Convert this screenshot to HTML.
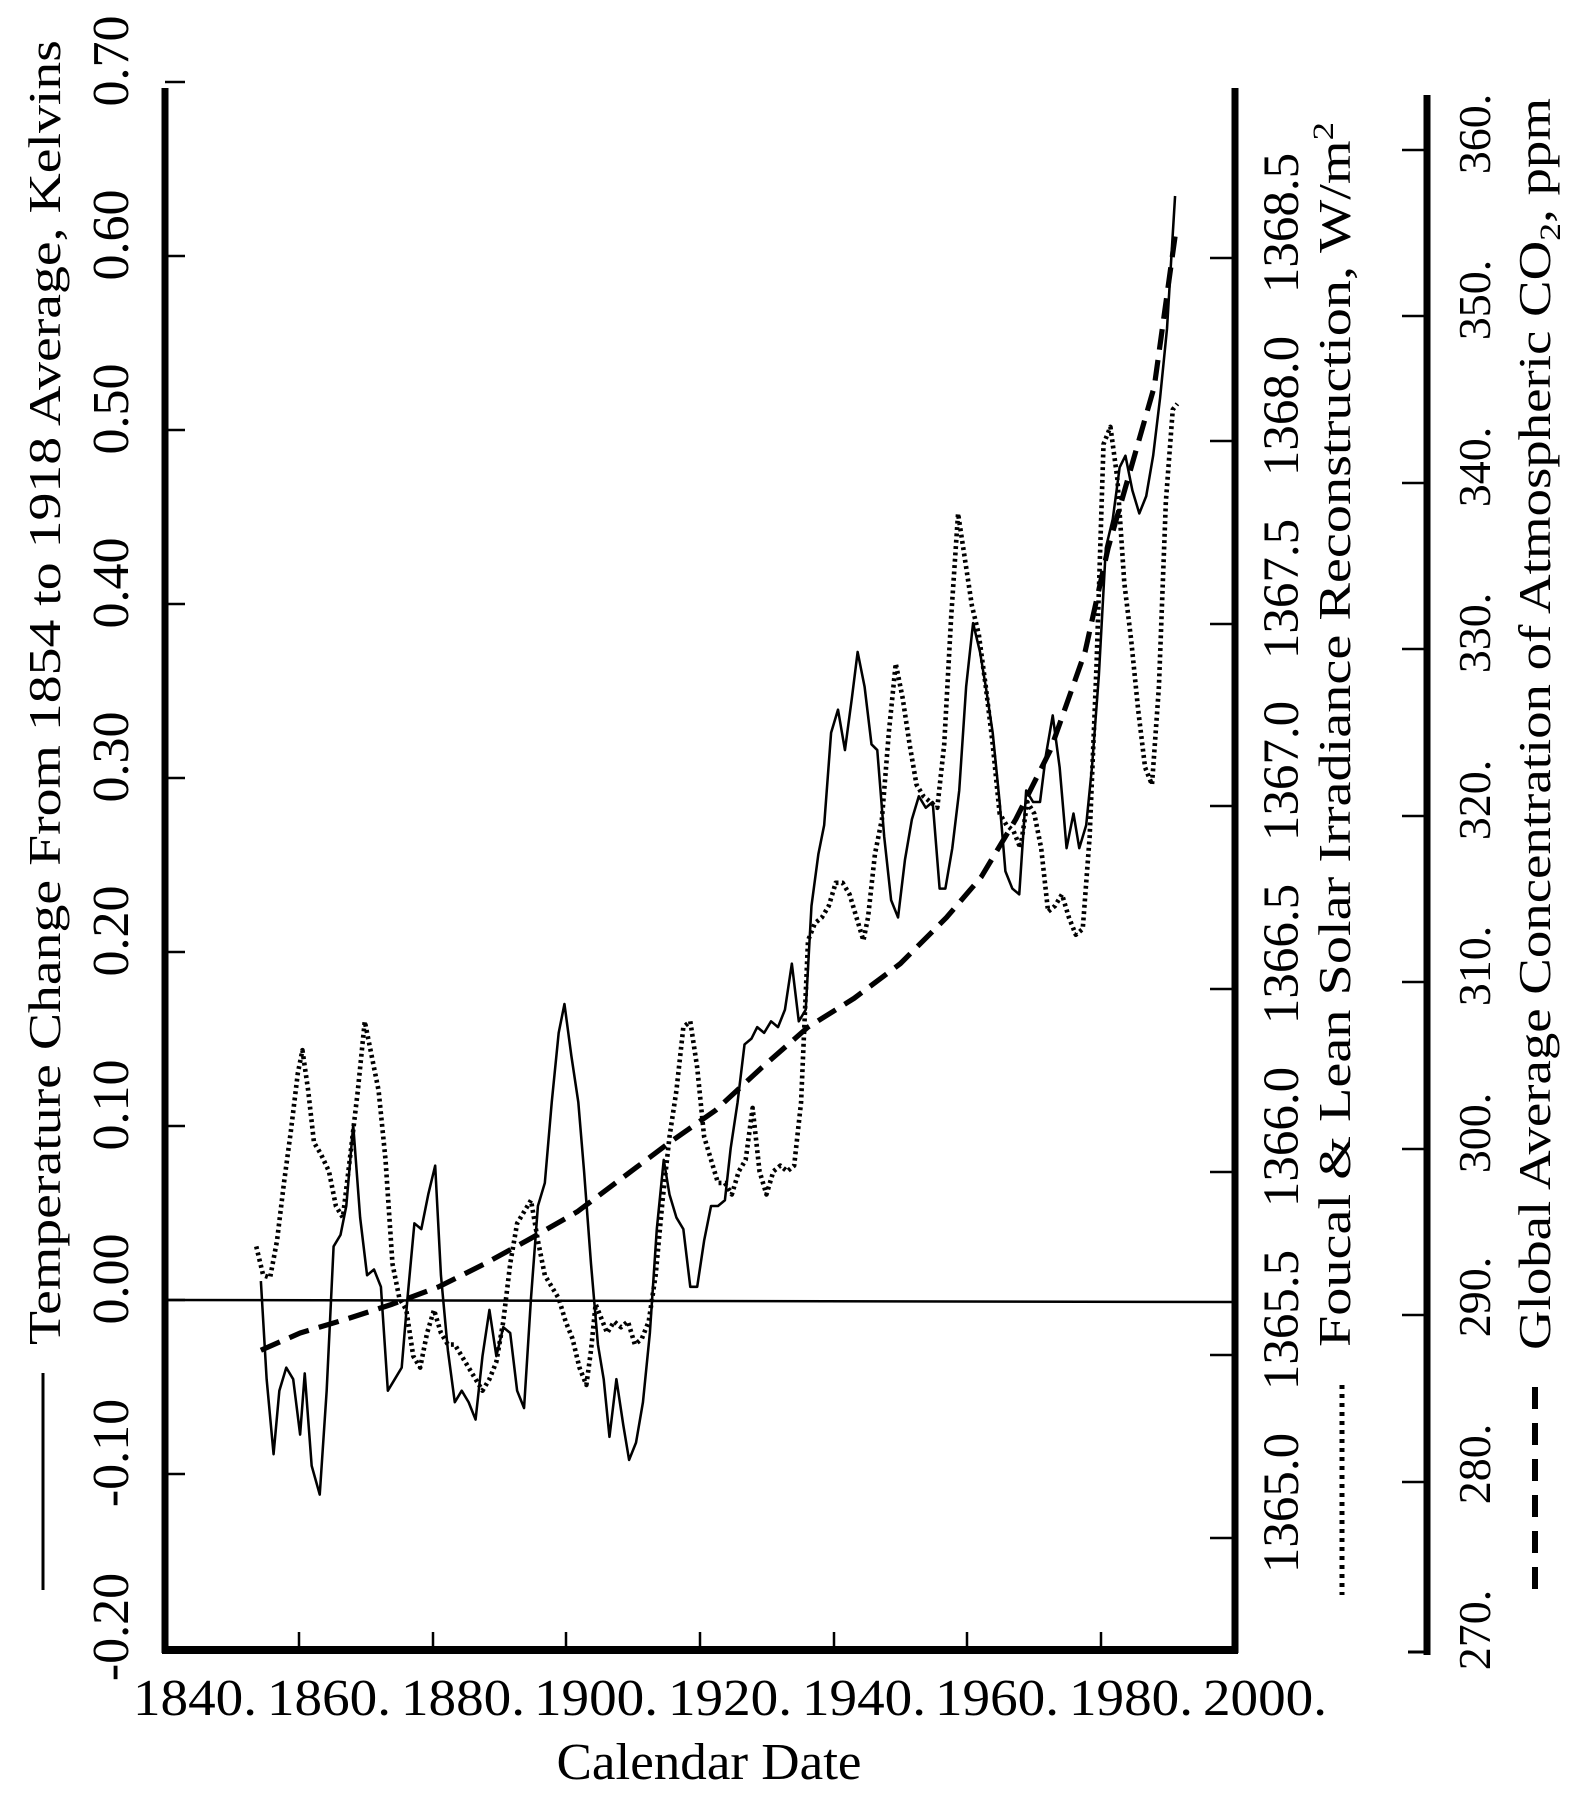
<!DOCTYPE html>
<html><head><meta charset="utf-8"><style>body{margin:0;background:#fff}svg{display:block}text{font-family:"Liberation Serif",serif;fill:#000}</style></head>
<body>
<svg width="1593" height="1800" viewBox="0 0 1593 1800" xmlns="http://www.w3.org/2000/svg">
<g stroke="#000" fill="none">
<line x1="165" y1="88" x2="165" y2="1653" stroke-width="7"/>
<line x1="162" y1="1650" x2="1238" y2="1650" stroke-width="8"/>
<line x1="1235" y1="88" x2="1235" y2="1653" stroke-width="7"/>
<line x1="1427" y1="95" x2="1427" y2="1655" stroke-width="7"/>
<line x1="1408" y1="1652" x2="1427" y2="1652" stroke-width="3"/>
<line x1="165" y1="1300" x2="1235" y2="1302" stroke-width="2.5"/>
<g stroke-width="2.5">
<path d="M165 82h20M165 256h20M165 430h20M165 604h20M165 778h20M165 952h20M165 1126h20M165 1300h20M165 1474h20"/>
<path d="M299 1650v-18M433 1650v-18M566 1650v-18M700 1650v-18M834 1650v-18M967 1650v-18M1101 1650v-18"/>
<path d="M1235 258h-25M1235 441h-25M1235 624h-25M1235 806h-25M1235 989h-25M1235 1172h-25M1235 1355h-25M1235 1538h-25"/>
<path d="M1427 150h-25M1427 316h-25M1427 483h-25M1427 649h-25M1427 816h-25M1427 982h-25M1427 1149h-25M1427 1315h-25M1427 1482h-25"/>
</g>
</g>
<g font-size="52" text-anchor="middle">
<text transform="translate(128,61) rotate(-90)">0.70</text>
<text transform="translate(128,235) rotate(-90)">0.60</text>
<text transform="translate(128,409) rotate(-90)">0.50</text>
<text transform="translate(128,583) rotate(-90)">0.40</text>
<text transform="translate(128,757) rotate(-90)">0.30</text>
<text transform="translate(128,931) rotate(-90)">0.20</text>
<text transform="translate(128,1105) rotate(-90)">0.10</text>
<text transform="translate(128,1279) rotate(-90)">0.00</text>
<text transform="translate(128,1453) rotate(-90)">-0.10</text>
<text transform="translate(128,1627) rotate(-90)">-0.20</text>
</g>
<text transform="translate(60,1345) rotate(-90)" font-size="46" textLength="1305" lengthAdjust="spacingAndGlyphs">Temperature Change From 1854 to 1918 Average, Kelvins</text>
<line x1="43" y1="1373" x2="43" y2="1590" stroke="#000" stroke-width="3"/>
<g font-size="52">
<text x="133" y="1715" textLength="124" lengthAdjust="spacingAndGlyphs">1840.</text>
<text x="267" y="1715" textLength="124" lengthAdjust="spacingAndGlyphs">1860.</text>
<text x="401" y="1715" textLength="124" lengthAdjust="spacingAndGlyphs">1880.</text>
<text x="534" y="1715" textLength="124" lengthAdjust="spacingAndGlyphs">1900.</text>
<text x="668" y="1715" textLength="124" lengthAdjust="spacingAndGlyphs">1920.</text>
<text x="802" y="1715" textLength="124" lengthAdjust="spacingAndGlyphs">1940.</text>
<text x="935" y="1715" textLength="124" lengthAdjust="spacingAndGlyphs">1960.</text>
<text x="1069" y="1715" textLength="124" lengthAdjust="spacingAndGlyphs">1980.</text>
<text x="1203" y="1715" textLength="124" lengthAdjust="spacingAndGlyphs">2000.</text>
</g>
<text x="709" y="1779" font-size="52" text-anchor="middle" textLength="305" lengthAdjust="spacingAndGlyphs">Calendar Date</text>
<g font-size="51" text-anchor="middle">
<text transform="translate(1298,223) rotate(-90)">1368.5</text>
<text transform="translate(1298,406) rotate(-90)">1368.0</text>
<text transform="translate(1298,589) rotate(-90)">1367.5</text>
<text transform="translate(1298,771) rotate(-90)">1367.0</text>
<text transform="translate(1298,954) rotate(-90)">1366.5</text>
<text transform="translate(1298,1137) rotate(-90)">1366.0</text>
<text transform="translate(1298,1320) rotate(-90)">1365.5</text>
<text transform="translate(1298,1503) rotate(-90)">1365.0</text>
</g>
<text transform="translate(1350,1347) rotate(-90)" font-size="46" textLength="1225" lengthAdjust="spacingAndGlyphs">Foucal &amp; Lean Solar Irradiance Reconstruction, W/m<tspan font-size="30" dy="-17">2</tspan></text>
<line x1="1342" y1="1385" x2="1342" y2="1595" stroke="#000" stroke-width="5" stroke-dasharray="4 5"/>
<g font-size="46" text-anchor="middle">
<text transform="translate(1490,134) rotate(-90)">360.</text>
<text transform="translate(1490,300) rotate(-90)">350.</text>
<text transform="translate(1490,467) rotate(-90)">340.</text>
<text transform="translate(1490,633) rotate(-90)">330.</text>
<text transform="translate(1490,800) rotate(-90)">320.</text>
<text transform="translate(1490,966) rotate(-90)">310.</text>
<text transform="translate(1490,1133) rotate(-90)">300.</text>
<text transform="translate(1490,1297) rotate(-90)">290.</text>
<text transform="translate(1490,1464) rotate(-90)">280.</text>
<text transform="translate(1490,1630) rotate(-90)">270.</text>
</g>
<text transform="translate(1550,1350) rotate(-90)" font-size="46" textLength="1252" lengthAdjust="spacingAndGlyphs">Global Average Concentration of Atmospheric CO<tspan font-size="30" dy="10">2</tspan><tspan dy="-10">, ppm</tspan></text>
<line x1="1535" y1="1387" x2="1535" y2="1595" stroke="#000" stroke-width="6" stroke-dasharray="22 14"/>
<g transform="translate(0,-6) scale(1.1543)" fill="none" stroke="#000" stroke-linejoin="round">
<polyline stroke-width="2.2" points="226,1115 231,1200 237,1265 242,1210 248,1190 254,1200 260,1248 264,1195 270,1275 277,1300 283,1210 289,1085 295,1075 300,1050 306,980 312,1060 318,1110 324,1105 330,1120 336,1210 342,1200 348,1190 353,1130 359,1065 365,1070 371,1040 377,1015 382,1110 388,1175 394,1220 400,1210 406,1220 412,1235 418,1180 424,1140 430,1180 436,1155 442,1160 448,1210 454,1225 460,1130 466,1050 472,1030 478,960 484,900 489,875 495,920 501,960 506,1020 512,1100 518,1170 523,1200 528,1250 534,1200 540,1240 545,1270 551,1255 557,1220 563,1160 569,1070 575,1010 580,1040 586,1060 592,1070 598,1120 604,1120 610,1080 616,1050 622,1050 628,1045 633,1000 639,960 645,910 651,905 656,895 662,900 668,890 674,895 680,880 686,840 692,890 698,880 703,790 709,745 714,720 720,640 726,620 732,655 738,610 743,570 749,600 755,650 760,655 766,730 772,785 778,800 784,750 790,715 796,695 802,705 808,700 814,775 819,775 825,740 831,690 837,600 843,545 849,570 854,600 860,640 866,700 871,760 877,775 883,780 889,690 895,700 901,700 906,660 912,625 918,670 924,740 930,710 935,740 941,720 946,670 952,590 958,480 964,455 970,410 975,400 981,430 987,450 993,435 999,400 1005,350 1011,290 1018,175"/>
<polyline stroke-width="4" stroke-dasharray="2.5 3" points="222,1085 228,1110 234,1112 240,1080 246,1030 252,985 258,935 262,915 267,950 272,995 278,1005 285,1020 291,1050 297,1060 303,1010 310,950 316,890 322,920 328,950 334,1010 340,1100 346,1130 352,1140 358,1180 364,1190 370,1160 376,1140 382,1160 388,1170 394,1170 400,1180 406,1190 412,1200 418,1210 424,1200 430,1185 436,1150 442,1100 448,1065 454,1055 460,1045 466,1080 472,1110 478,1120 484,1130 490,1150 496,1165 502,1190 508,1205 512,1175 516,1135 520,1145 526,1160 532,1150 538,1155 544,1150 550,1170 556,1165 562,1150 568,1110 574,1045 580,990 586,950 592,895 598,890 604,930 610,990 616,1010 622,1030 628,1030 634,1040 640,1020 646,1010 652,965 658,1020 664,1040 670,1020 676,1015 682,1020 688,1015 694,960 700,820 706,805 712,800 718,790 724,770 730,770 736,780 742,800 748,820 752,800 758,745 764,715 770,640 776,580 782,610 788,650 794,685 800,695 806,700 812,705 818,650 824,540 830,450 836,490 842,530 848,555 854,600 860,650 866,710 872,720 878,725 884,740 890,700 896,710 902,740 908,795 914,790 920,780 926,800 932,815 938,810 944,730 950,580 956,390 962,375 968,420 974,510 980,560 986,620 992,670 998,685 1004,600 1010,440 1016,360 1020,355"/>
<polyline stroke-width="4.5" stroke-dasharray="18 9" points="226,1175 260,1160 300,1148 340,1135 380,1120 420,1100 460,1078 500,1055 540,1025 580,995 620,967 660,930 700,895 740,870 780,840 820,800 850,765 880,715 910,655 940,570 960,480 980,410 1000,340 1018,210"/>
</g>
</svg>
</body></html>
